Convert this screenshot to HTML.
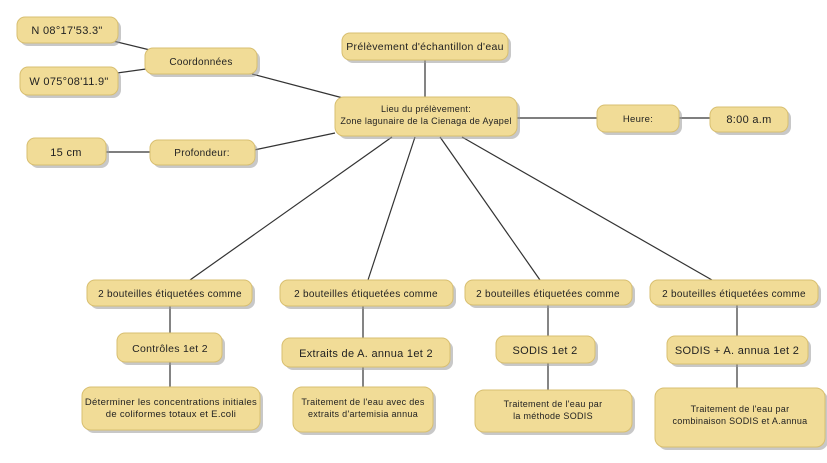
<!DOCTYPE html>
<html><head><meta charset="utf-8"><style>
html,body{margin:0;padding:0;background:#fff}
svg{display:block}
text{font-family:"Liberation Sans",sans-serif;fill:#222;text-anchor:middle;letter-spacing:0.3px}
.b{fill:#f1dc97;stroke:#d8bf70;stroke-width:1}
.s{fill:#9a9a9a;opacity:.55}
line{stroke:#333;stroke-width:1.2}
</style></head><body>
<svg width="827" height="463" viewBox="0 0 827 463" xmlns="http://www.w3.org/2000/svg">
<g>
<line x1="113" y1="41" x2="150" y2="50"/>
<line x1="117" y1="73" x2="146" y2="69"/>
<line x1="252" y1="74" x2="343" y2="98"/>
<line x1="254" y1="150" x2="335" y2="133"/>
<line x1="106" y1="152" x2="150" y2="152"/>
<line x1="425" y1="60" x2="425" y2="97"/>
<line x1="517" y1="118" x2="597" y2="118"/>
<line x1="679" y1="118" x2="710" y2="118"/>
<line x1="392" y1="137" x2="190" y2="280"/>
<line x1="415" y1="137" x2="368" y2="280"/>
<line x1="440" y1="137" x2="540" y2="280"/>
<line x1="462" y1="137" x2="712" y2="280"/>
<line x1="170" y1="305" x2="170" y2="333"/>
<line x1="170" y1="362" x2="170" y2="387"/>
<line x1="363" y1="305" x2="363" y2="338"/>
<line x1="363" y1="367" x2="363" y2="387"/>
<line x1="548" y1="305" x2="548" y2="336"/>
<line x1="548" y1="363" x2="548" y2="390"/>
<line x1="737" y1="305" x2="737" y2="336"/>
<line x1="737" y1="364" x2="737" y2="388"/>
</g>
<g id="boxes">
<rect class="s" x="20" y="20" width="101" height="26" rx="8"/>
<rect class="s" x="23" y="70" width="98" height="28" rx="8"/>
<rect class="s" x="148" y="51" width="112" height="26" rx="8"/>
<rect class="s" x="30" y="141" width="79" height="27" rx="8"/>
<rect class="s" x="153" y="143" width="105" height="25" rx="8"/>
<rect class="s" x="345" y="36" width="166" height="27" rx="8"/>
<rect class="s" x="338" y="100" width="182" height="39" rx="9"/>
<rect class="s" x="600" y="108" width="82" height="27" rx="8"/>
<rect class="s" x="713" y="110" width="78" height="25" rx="8"/>
<rect class="s" x="90" y="283" width="165" height="26" rx="8"/>
<rect class="s" x="283" y="283" width="173" height="26" rx="8"/>
<rect class="s" x="468" y="283" width="167" height="25" rx="8"/>
<rect class="s" x="653" y="283" width="168" height="25" rx="8"/>
<rect class="s" x="120" y="336" width="105" height="29" rx="8"/>
<rect class="s" x="285" y="341" width="168" height="29" rx="8"/>
<rect class="s" x="499" y="339" width="99" height="27" rx="8"/>
<rect class="s" x="670" y="339" width="141" height="28" rx="8"/>
<rect class="s" x="85" y="390" width="178" height="43" rx="9"/>
<rect class="s" x="296" y="390" width="140" height="45" rx="9"/>
<rect class="s" x="478" y="393" width="157" height="42" rx="9"/>
<rect class="s" x="658" y="391" width="170" height="59" rx="9"/>
<rect class="b" x="17" y="17" width="101" height="26" rx="8"/>
<rect class="b" x="20" y="67" width="98" height="28" rx="8"/>
<rect class="b" x="145" y="48" width="112" height="26" rx="8"/>
<rect class="b" x="27" y="138" width="79" height="27" rx="8"/>
<rect class="b" x="150" y="140" width="105" height="25" rx="8"/>
<rect class="b" x="342" y="33" width="166" height="27" rx="8"/>
<rect class="b" x="335" y="97" width="182" height="39" rx="9"/>
<rect class="b" x="597" y="105" width="82" height="27" rx="8"/>
<rect class="b" x="710" y="107" width="78" height="25" rx="8"/>
<rect class="b" x="87" y="280" width="165" height="26" rx="8"/>
<rect class="b" x="280" y="280" width="173" height="26" rx="8"/>
<rect class="b" x="465" y="280" width="167" height="25" rx="8"/>
<rect class="b" x="650" y="280" width="168" height="25" rx="8"/>
<rect class="b" x="117" y="333" width="105" height="29" rx="8"/>
<rect class="b" x="282" y="338" width="168" height="29" rx="8"/>
<rect class="b" x="496" y="336" width="99" height="27" rx="8"/>
<rect class="b" x="667" y="336" width="141" height="28" rx="8"/>
<rect class="b" x="82" y="387" width="178" height="43" rx="9"/>
<rect class="b" x="293" y="387" width="140" height="45" rx="9"/>
<rect class="b" x="475" y="390" width="157" height="42" rx="9"/>
<rect class="b" x="655" y="388" width="170" height="59" rx="9"/>
</g>
<g>
<text x="67" y="34" font-size="11">N 08°17'53.3"</text>
<text x="69" y="85" font-size="11">W 075°08'11.9"</text>
<text x="201" y="65" font-size="10">Coordonnées</text>
<text x="66" y="156" font-size="11">15 cm</text>
<text x="202" y="156" font-size="10">Profondeur:</text>
<text x="425" y="50" font-size="10.5">Prélèvement d'échantillon d'eau</text>
<text x="426" y="112" font-size="9">Lieu du prélèvement:</text>
<text x="426" y="124" font-size="9">Zone lagunaire de la Cienaga de Ayapel</text>
<text x="638" y="122" font-size="9.5">Heure:</text>
<text x="749" y="123" font-size="11">8:00 a.m</text>
<text x="170" y="297" font-size="10">2 bouteilles étiquetées comme</text>
<text x="366" y="297" font-size="10">2 bouteilles étiquetées comme</text>
<text x="548" y="297" font-size="10">2 bouteilles étiquetées comme</text>
<text x="734" y="297" font-size="10">2 bouteilles étiquetées comme</text>
<text x="170" y="352" font-size="10.5">Contrôles 1et 2</text>
<text x="366" y="357" font-size="11">Extraits de A. annua 1et 2</text>
<text x="545" y="354" font-size="11">SODIS 1et 2</text>
<text x="737" y="354" font-size="11">SODIS + A. annua 1et 2</text>
<text x="171" y="405" font-size="9.5">Déterminer les concentrations initiales</text>
<text x="171" y="417" font-size="9.5">de coliformes totaux et E.coli</text>
<text x="363" y="405" font-size="9">Traitement de l'eau avec des</text>
<text x="363" y="417" font-size="9">extraits d'artemisia annua</text>
<text x="553" y="407" font-size="9">Traitement de l'eau par</text>
<text x="553" y="419" font-size="9">la méthode SODIS</text>
<text x="740" y="412" font-size="9">Traitement de l'eau par</text>
<text x="740" y="424" font-size="9">combinaison SODIS et A.annua</text>
</g>
</svg>
</body></html>
